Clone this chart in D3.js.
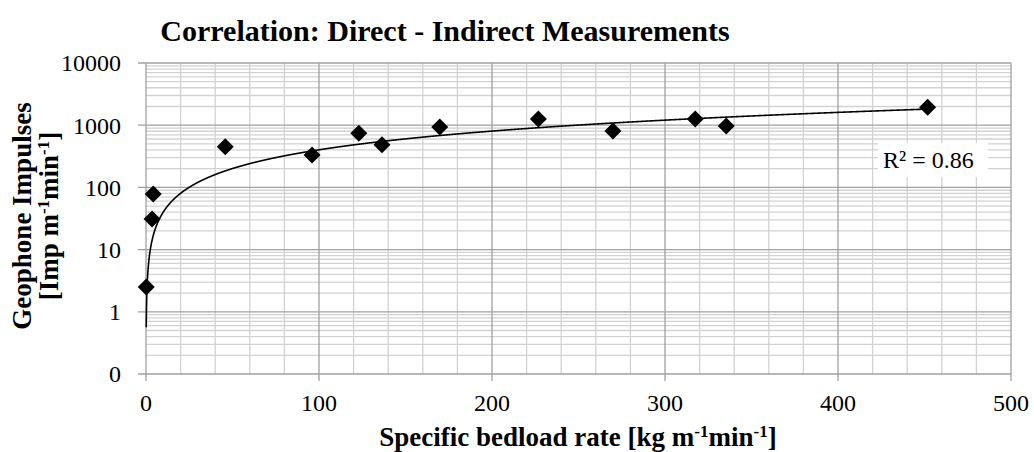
<!DOCTYPE html>
<html>
<head>
<meta charset="utf-8">
<script src="https://cdn.jsdelivr.net/npm/d3@7"></script>
<style>
  body { margin: 0; background: #fff; }
  text { font-family: "Liberation Serif", "Times New Roman", serif; fill: #000; }
</style>
</head>
<body>
<div id="chart"></div>
<script>
var bedloadRate = [0.14, 3.5, 4.2, 45.8, 96, 123, 136.4, 169.8, 226.8, 269.9, 317.5, 335.4, 451.8];
var impulses = [2.5, 31, 78, 452, 332, 741, 486, 936, 1259, 807, 1259, 971, 1940];
var xTicks = [0, 100, 200, 300, 400, 500];
var yTicks = [0.1, 1, 10, 100, 1000, 10000];
var r2Label = "R\u00b2 = 0.86";

var width = 1034, height = 452;
var plotL = 146, plotR = 1011, plotT = 63, plotB = 374;

var svg = d3.select("#chart").append("svg")
    .attr("width", width).attr("height", height);

var x = d3.scaleLinear().domain([0, 500]).range([plotL, plotR]);
var y = d3.scaleLog().domain([0.1, 10000]).range([plotB, plotT]);

// minor grid
var xMinor = d3.range(0, 501, 20).filter(function (d) { return d % 100 != 0; });
var yMinor = [];
yTicks.slice(0, -1).forEach(function (d) {
    for (var k = 2; k < 10; k++) yMinor.push(d * k);
});
var grid = svg.append("g");
grid.selectAll(".vminor").data(xMinor).enter().append("line")
    .attr("x1", function (d) { return x(d); }).attr("x2", function (d) { return x(d); })
    .attr("y1", plotT).attr("y2", plotB)
    .attr("stroke", "#d2d2d2").attr("stroke-width", 1.3);
grid.selectAll(".hminor").data(yMinor).enter().append("line")
    .attr("x1", plotL).attr("x2", plotR)
    .attr("y1", function (d) { return y(d); }).attr("y2", function (d) { return y(d); })
    .attr("stroke", "#d2d2d2").attr("stroke-width", 1.3);
// major grid
grid.selectAll(".vmajor").data(xTicks).enter().append("line")
    .attr("x1", function (d) { return x(d); }).attr("x2", function (d) { return x(d); })
    .attr("y1", plotT).attr("y2", plotB + 7)
    .attr("stroke", "#a0a0a0").attr("stroke-width", 1.3);
grid.selectAll(".hmajor").data(yTicks).enter().append("line")
    .attr("x1", plotL - 8).attr("x2", plotR)
    .attr("y1", function (d) { return y(d); }).attr("y2", function (d) { return y(d); })
    .attr("stroke", "#a0a0a0").attr("stroke-width", 1.3);

// tick labels
var fmt = d3.format(".0f");
svg.append("g").selectAll("text").data(yTicks).enter().append("text")
    .attr("x", 121).attr("y", function (d) { return y(d); })
    .attr("dy", "0.35em").attr("text-anchor", "end")
    .style("font-size", "24px")
    .text(function (d) { return fmt(d); });
svg.append("g").selectAll("text").data(xTicks).enter().append("text")
    .attr("x", function (d) { return x(d); }).attr("y", 411)
    .attr("text-anchor", "middle")
    .style("font-size", "24px")
    .text(function (d) { return d; });

// trendline: linear fit through the origin, drawn from min to max x
var sxy = d3.sum(bedloadRate, function (d, i) { return d * impulses[i]; });
var sxx = d3.sum(bedloadRate, function (d) { return d * d; });
var slope = sxy / sxx;
var xMin = d3.min(bedloadRate), xMax = d3.max(bedloadRate);
var trendX = d3.range(xMin, xMax, 0.02).concat([xMax]);
var line = d3.line()
    .x(function (d) { return x(d); })
    .y(function (d) { return y(slope * d); });
svg.append("path").datum(trendX)
    .attr("d", line)
    .attr("fill", "none").attr("stroke", "#000").attr("stroke-width", 1.6);

// points
var pts = bedloadRate.map(function (d, i) { return { x: d, y: impulses[i] }; });
svg.append("g").selectAll("path").data(pts).enter().append("path")
    .attr("d", "M0,-8.5L8.5,0L0,8.5L-8.5,0Z")
    .attr("transform", function (d) { return "translate(" + x(d.x) + "," + y(d.y) + ")"; })
    .attr("fill", "#000");

// R2 label
svg.append("rect")
    .attr("x", 878).attr("y", 143).attr("width", 110).attr("height", 34)
    .attr("fill", "#fff");
svg.append("text")
    .attr("x", 883).attr("y", 168)
    .style("font-size", "24px")
    .text(r2Label);

// titles
svg.append("text")
    .attr("x", 445).attr("y", 41).attr("text-anchor", "middle")
    .style("font-size", "30px").style("font-weight", "bold")
    .text("Correlation: Direct - Indirect Measurements");

function unitText(sel, before) {
    sel.append("tspan").text(before + "m");
    sel.append("tspan").attr("dy", -9).style("font-size", "17px").text("-1");
    sel.append("tspan").attr("dy", 9).text("min");
    sel.append("tspan").attr("dy", -9).style("font-size", "17px").text("-1");
    sel.append("tspan").attr("dy", 9).text("]");
}

var xt = svg.append("text")
    .attr("x", 578).attr("y", 446).attr("text-anchor", "middle")
    .style("font-size", "27px").style("font-weight", "bold");
unitText(xt, "Specific bedload rate [kg ");

svg.append("text")
    .attr("transform", "translate(31,216) rotate(-90)")
    .attr("text-anchor", "middle")
    .style("font-size", "27px").style("font-weight", "bold")
    .text("Geophone Impulses");
var yt = svg.append("text")
    .attr("transform", "translate(58,216) rotate(-90)")
    .attr("text-anchor", "middle")
    .style("font-size", "27px").style("font-weight", "bold");
unitText(yt, "[Imp ");
</script>
</body>
</html>
